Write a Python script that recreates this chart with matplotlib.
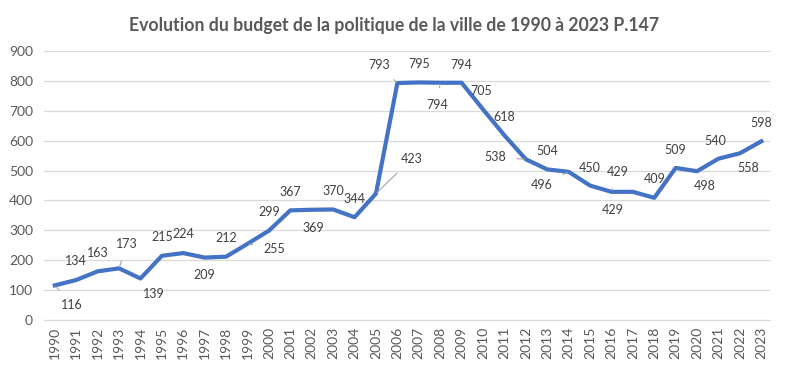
import matplotlib
matplotlib.use('Agg')
import matplotlib.pyplot as plt

plt.rcParams['font.family'] = ['Lato', 'DejaVu Sans']

years = list(range(1990, 2024))
budget = [116, 134, 163, 173, 139, 215, 224, 209, 212, 255,
          299, 367, 369, 370, 344, 423, 793, 795, 794, 794,
          705, 618, 538, 504, 496, 450, 429, 429, 409, 509,
          498, 540, 558, 598]

# label offsets in pixels (dx, dy), dy positive = up
offsets = [(17, -20), (0, 19), (0, 18), (8, 24), (13, -15), (0, 19), (0, 19), (0, -17),
           (0, 19), (27, -5), (0, 19), (0, 18), (2, -18), (0, 18), (0, 18), (36, 35),
           (-18, 18), (0, 18), (-3, -22), (0, 18), (-2, 18), (0, 18), (-31, 2), (0, 18),
           (-27, -13), (0, 18), (6, 20), (-20, -18), (0, 19), (0, 18), (8, -15), (-3, 18),
           (8, -15), (0, 18)]
leaders = {1990, 1993, 1999, 2005, 2006, 2008, 2012, 2014, 2016}

fig = plt.figure(figsize=(7.88, 3.7), dpi=100)
ax = fig.add_axes([0.056, 0.135, 0.921, 0.727])

ax.plot(years, budget, color='#4472C4', linewidth=3, solid_joinstyle='round', zorder=3)

for yr, val, (dx, dy) in zip(years, budget, offsets):
    props = None
    if yr in leaders:
        props = dict(arrowstyle='-', color='#a6a6a6', lw=0.8, shrinkA=6, shrinkB=1)
    ax.annotate(str(val), (yr, val), xytext=(dx, dy), textcoords='offset pixels',
                ha='center', va='center', fontsize=9, color='#404040',
                arrowprops=props, zorder=4)

ax.set_xlim(1989.5, 2023.4)
ax.set_ylim(0, 900)
ax.set_yticks(range(0, 901, 100))
ax.set_xticks(years)
ax.set_xticklabels([str(y) for y in years], rotation=90)
ax.tick_params(axis='both', length=0, labelsize=10, labelcolor='#595959')
ax.tick_params(axis='y', pad=8)
ax.tick_params(axis='x', pad=5)
ax.grid(axis='y', color='#d9d9d9', linewidth=0.9)
ax.set_axisbelow(True)
for side in ['top', 'right', 'left']:
    ax.spines[side].set_visible(False)
ax.spines['bottom'].set_color('#d9d9d9')

fig.suptitle('Evolution du budget de la politique de la ville de 1990 à 2023 P.147',
             x=0.5, y=0.955, fontsize=12.7, fontweight='bold', color='#595959')

fig.savefig('out.png', dpi=100)
